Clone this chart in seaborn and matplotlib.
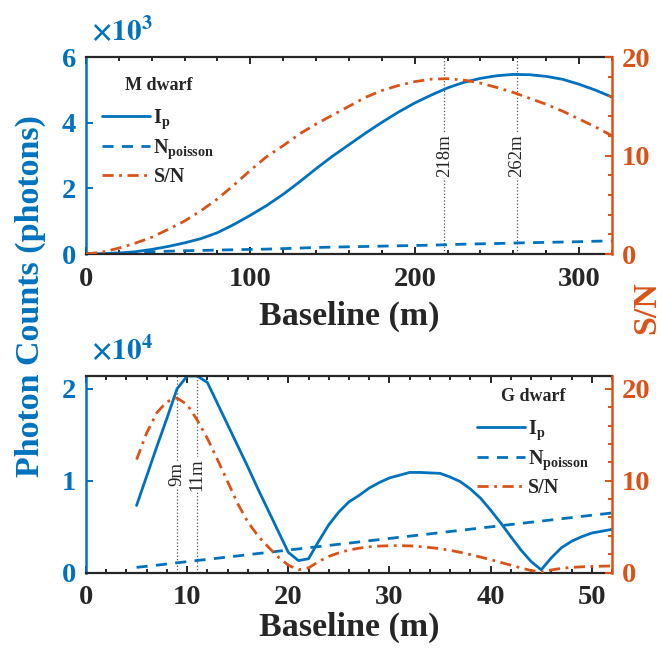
import numpy as np
import pandas as pd
import matplotlib
matplotlib.use('Agg')
import matplotlib.pyplot as plt
import matplotlib.transforms as mtransforms
from matplotlib.ticker import MultipleLocator, FixedLocator
from matplotlib.lines import Line2D
import seaborn as sns

sns.set_theme(style='white')
plt.rcParams['font.family'] = ['Liberation Serif', 'DejaVu Serif']
plt.rcParams['font.weight'] = 'bold'
plt.rcParams['mathtext.fontset'] = 'custom'
plt.rcParams['mathtext.rm'] = 'Liberation Serif:bold'
plt.rcParams['mathtext.it'] = 'Liberation Serif:bold'
plt.rcParams['mathtext.bf'] = 'Liberation Serif:bold'

BLUE = '#0072BD'
ORANGE = '#D95319'
DARK = '#262626'

# ---------------- M dwarf (photon counts in units of 1e3) ----------------
m_baseline = [0, 10, 20, 30, 40, 50, 60, 70, 80, 90, 100, 110, 120, 130, 140, 150,
              160, 170, 180, 190, 200, 210, 220, 230, 240, 250, 260, 270, 280, 290,
              300, 310, 320]
m_ip = [0.00, 0.01, 0.03, 0.07, 0.14, 0.23, 0.34, 0.47, 0.65, 0.90, 1.18, 1.48, 1.82,
        2.20, 2.60, 2.98, 3.33, 3.68, 4.01, 4.32, 4.60, 4.84, 5.06, 5.23, 5.35, 5.43,
        5.47, 5.46, 5.41, 5.32, 5.17, 4.99, 4.78]
m_noise = [0.00, 0.015, 0.03, 0.05, 0.07, 0.085, 0.10, 0.11, 0.12, 0.13, 0.14, 0.15,
           0.165, 0.18, 0.20, 0.21, 0.22, 0.23, 0.24, 0.25, 0.26, 0.27, 0.285, 0.30,
           0.31, 0.32, 0.335, 0.345, 0.355, 0.365, 0.375, 0.39, 0.40]
m_snr = [0.0, 0.2, 0.6, 1.1, 1.7, 2.5, 3.35, 4.4, 5.6, 7.0, 8.5, 9.9, 11.0, 12.2, 13.2,
         14.1, 15.0, 15.9, 16.6, 17.1, 17.5, 17.75, 17.8, 17.65, 17.35, 16.9, 16.4,
         15.8, 15.2, 14.5, 13.7, 12.9, 12.0]
m_marks = [218, 262]
m_mark_labels = ['218m', '262m']

# ---------------- G dwarf (photon counts in units of 1e4) ----------------
g_baseline = [5, 6, 7, 8, 9, 10, 11, 12, 13, 14, 15, 16, 17, 18, 19, 20, 21, 22, 23,
              24, 25, 26, 27, 28, 29, 30, 31, 32, 33, 34, 35, 36, 37, 38, 39, 40, 41,
              42, 43, 44, 45, 46, 47, 48, 49, 50, 51, 52]
g_ip = [0.73, 1.05, 1.37, 1.68, 2.00, 2.14, 2.14, 2.07, 1.84, 1.61, 1.38, 1.15, 0.91,
        0.68, 0.45, 0.22, 0.13, 0.15, 0.34, 0.52, 0.66, 0.77, 0.84, 0.92, 0.98, 1.03,
        1.06, 1.09, 1.09, 1.085, 1.08, 1.04, 0.99, 0.91, 0.81, 0.68, 0.54, 0.39, 0.245,
        0.12, 0.03, 0.16, 0.27, 0.34, 0.39, 0.43, 0.45, 0.47]
g_noise = [0.056, 0.068, 0.080, 0.093, 0.106, 0.118, 0.131, 0.143, 0.156, 0.169, 0.181,
           0.194, 0.207, 0.219, 0.232, 0.245, 0.257, 0.270, 0.283, 0.295, 0.308, 0.320,
           0.333, 0.346, 0.358, 0.371, 0.384, 0.396, 0.409, 0.421, 0.434, 0.447, 0.459,
           0.472, 0.485, 0.497, 0.510, 0.523, 0.535, 0.548, 0.560, 0.573, 0.586, 0.598,
           0.611, 0.624, 0.636, 0.649]
g_snr = [12.3, 15.2, 17.4, 18.6, 19.0, 18.3, 16.6, 14.6, 12.3, 9.9, 7.5, 5.5, 4.0, 2.8,
         1.7, 0.8, 0.3, 0.5, 1.2, 1.75, 2.15, 2.45, 2.65, 2.8, 2.88, 2.92, 2.93, 2.9,
         2.82, 2.72, 2.6, 2.42, 2.2, 1.95, 1.68, 1.4, 1.1, 0.8, 0.5, 0.22, 0.05, 0.28,
         0.45, 0.56, 0.62, 0.66, 0.69, 0.72]
g_marks = [9, 11]
g_mark_labels = ['9m', '11m']

legend_labels = [r'$\mathrm{I_p}$', r'$\mathrm{N_{poisson}}$', 'S/N']

LW = 2.0
DASH = (0, (4, 3))
DASHDOT = (0, (4, 2, 1, 2))

fig = plt.figure(figsize=(6.65, 6.5), dpi=100)
fig.patch.set_facecolor('white')


def make_panel(rect, x, ip, noise, snr, xlim, ylim_l, ylim_r, xmajor, xminor,
               lticks, rticks, marks, mark_labels, exp_label, title, leg_anchor,
               xlabelpad):
    ax = fig.add_axes(rect)
    ax2 = ax.twinx()
    ax.set_facecolor('white')
    df = pd.DataFrame({'b': x, 'ip': ip, 'n': noise, 'snr': snr})
    sns.lineplot(data=df, x='b', y='ip', ax=ax, color=BLUE, lw=LW, linestyle='-')
    sns.lineplot(data=df, x='b', y='n', ax=ax, color=BLUE, lw=LW, linestyle=DASH)
    sns.lineplot(data=df, x='b', y='snr', ax=ax2, color=ORANGE, lw=LW,
                 linestyle=DASHDOT)
    ax.set_xlim(*xlim)
    ax.set_ylim(*ylim_l)
    ax2.set_ylim(*ylim_r)
    ax.set_ylabel('')
    ax2.set_ylabel('')
    ax.set_xlabel('Baseline (m)', fontsize=24.5, color=DARK, fontweight='bold',
                  labelpad=xlabelpad)

    # vertical marker lines
    trans = mtransforms.blended_transform_factory(ax.transData, ax.transAxes)
    for mv, ml in zip(marks, mark_labels):
        ax.axvline(mv, color='#555555', ls=':', lw=0.9, zorder=1)
        ax.text(mv, 0.5, ml, transform=trans, rotation=90, ha='center', va='center',
                fontsize=13.5, fontweight='normal', color=DARK, zorder=3,
                bbox=dict(fc='white', ec='none', pad=0.5))

    # spines
    for s in ['top', 'bottom']:
        ax.spines[s].set_color(DARK)
        ax.spines[s].set_linewidth(1.6)
        ax2.spines[s].set_visible(False)
    ax.spines['left'].set_color(BLUE)
    ax.spines['left'].set_linewidth(1.8)
    ax.spines['right'].set_visible(False)
    ax2.spines['left'].set_visible(False)
    ax2.spines['right'].set_color(ORANGE)
    ax2.spines['right'].set_linewidth(1.8)

    # ticks
    ax.xaxis.set_major_locator(FixedLocator(xmajor))
    ax.xaxis.set_minor_locator(MultipleLocator(xminor))
    ax.yaxis.set_major_locator(FixedLocator(lticks))
    ax2.yaxis.set_major_locator(FixedLocator(rticks))
    ax2.yaxis.set_minor_locator(MultipleLocator(2))
    ax.tick_params(axis='x', which='both', direction='in', top=True, bottom=True,
                   colors=DARK, labelsize=20.5, width=1.4, pad=9)
    ax.tick_params(axis='x', which='major', length=5)
    ax.tick_params(axis='x', which='minor', length=3)
    ax.tick_params(axis='y', which='both', direction='in', left=True, right=False,
                   colors=BLUE, labelsize=20.5, width=1.4, length=5, pad=7)
    ax2.tick_params(axis='y', which='both', direction='in', left=False, right=True,
                    colors=ORANGE, labelsize=20.5, width=1.4, pad=7)
    ax2.tick_params(axis='y', which='major', length=5)
    ax2.tick_params(axis='y', which='minor', length=3)
    ax.set_xticklabels([str(v) for v in xmajor])
    ax.set_yticklabels([f'{v:g}' for v in lticks])
    ax2.set_yticklabels([f'{v:g}' for v in rticks])
    for lab in ax.get_xticklabels() + ax.get_yticklabels() + ax2.get_yticklabels():
        lab.set_fontweight('bold')

    ax.text(0.01, 1.05, exp_label, transform=ax.transAxes, color=BLUE,
            fontsize=21, math_fontfamily='stix', ha='left', va='bottom')

    handles = [Line2D([], [], color=BLUE, lw=LW, ls='-'),
               Line2D([], [], color=BLUE, lw=LW, ls=DASH),
               Line2D([], [], color=ORANGE, lw=LW, ls=DASHDOT)]
    leg = ax2.legend(handles, legend_labels, title=title, frameon=False,
                     loc='upper left', bbox_to_anchor=leg_anchor,
                     handlelength=2.4, handletextpad=0.15, labelspacing=0.3,
                     borderpad=0.2, borderaxespad=0.0,
                     prop={'size': 14.5, 'weight': 'bold'},
                     title_fontproperties={'size': 13, 'weight': 'bold'})
    leg._legend_box.sep = 10
    return ax, ax2


make_panel([0.1293, 0.6092, 0.7910, 0.3031], m_baseline, m_ip, m_noise, m_snr,
           (0, 320), (0, 6), (0, 20), [0, 100, 200, 300], 20, [0, 2, 4, 6],
           [0, 10, 20], m_marks, m_mark_labels, r'$\times10^{3}$', 'M dwarf',
           (0.023, 0.92), 7)
make_panel([0.1293, 0.1192, 0.7910, 0.3023], g_baseline, g_ip, g_noise, g_snr,
           (0, 52), (0, 2.14), (0, 21.4), [0, 10, 20, 30, 40, 50], 2, [0, 1, 2],
           [0, 10, 20], g_marks, g_mark_labels, r'$\times10^{4}$', 'G dwarf',
           (0.735, 0.96), 1)

fig.text(0.045, 0.545, 'Photon Counts (photons)', rotation=90, ha='center',
         va='center', fontsize=24.5, fontweight='bold', color=BLUE)
fig.text(0.972, 0.527, 'S/N', rotation=90, ha='center', va='center', fontsize=24.5,
         fontweight='bold', color=ORANGE)

fig.savefig('out.png', dpi=100, facecolor='white')
